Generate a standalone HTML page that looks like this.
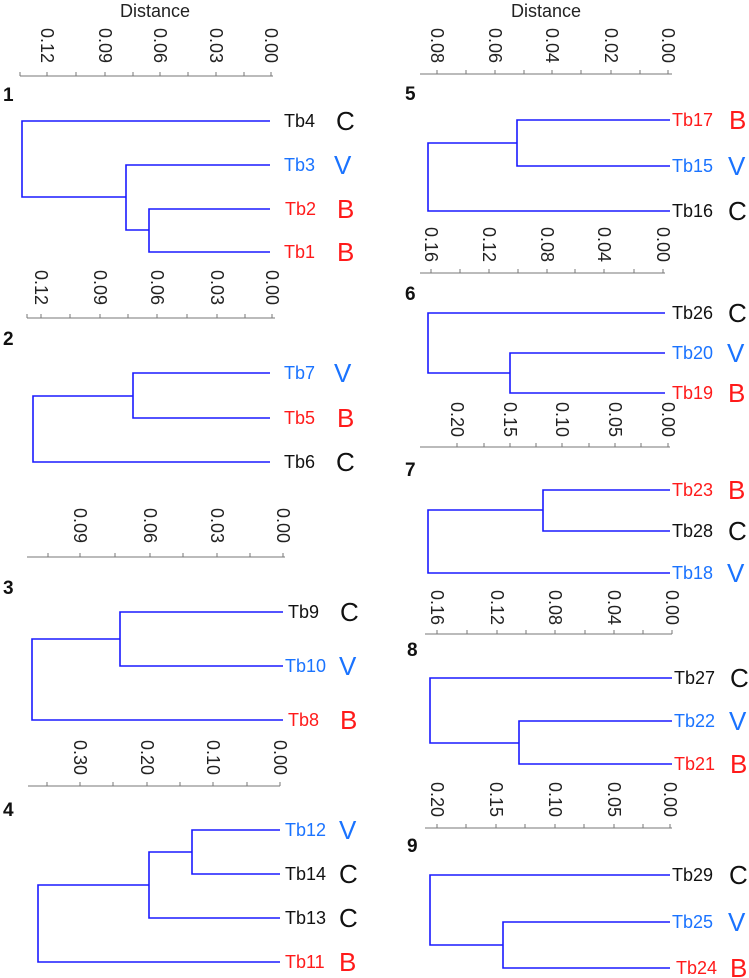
<!DOCTYPE html>
<html><head><meta charset="utf-8"><style>
html,body{margin:0;padding:0;background:#fff;width:749px;height:978px;overflow:hidden}
svg{display:block}
text{font-family:"Liberation Sans",sans-serif}
.ax{stroke:#777;stroke-width:1;fill:none}
.tr{stroke:#1a1aff;stroke-width:1.6;fill:none}
.tl{font-size:18px;fill:#222}
.lb{font-size:18px}
.lt{font-size:26px}
.k{fill:#111}.b{fill:#1a73ff}.r{fill:#ff1a1a}
.n{font-size:19px;font-weight:bold;fill:#111}
</style></head><body>
<svg width="749" height="978" viewBox="0 0 749 978" xmlns="http://www.w3.org/2000/svg">
<text x="155" y="17" font-size="18" text-anchor="middle" fill="#222">Distance</text>
<text x="546" y="17" font-size="18" text-anchor="middle" fill="#222">Distance</text>

<!-- Axis 1 -->
<path class="ax" d="M20 76H273 M20 76v-4 M47 76v-4 M76 76v-4 M105 76v-4 M133 76v-4 M160 76v-4 M188 76v-4 M216 76v-4 M244 76v-4 M271 76v-4"/>
<g class="tl">
<text transform="translate(47,28) rotate(90)" dominant-baseline="central">0.12</text>
<text transform="translate(105,28) rotate(90)" dominant-baseline="central">0.09</text>
<text transform="translate(160,28) rotate(90)" dominant-baseline="central">0.06</text>
<text transform="translate(216,28) rotate(90)" dominant-baseline="central">0.03</text>
<text transform="translate(271,28) rotate(90)" dominant-baseline="central">0.00</text>
</g>
<text class="n" x="3" y="101">1</text>
<path class="tr" d="M270 121H22V197H126 M270 165H126V230H149 M270 209H149V252H270"/>
<text class="lb k" x="284" y="127">Tb4</text><text class="lt k" x="336" y="130">C</text>
<text class="lb b" x="284" y="171">Tb3</text><text class="lt b" x="334" y="174">V</text>
<text class="lb r" x="285" y="215">Tb2</text><text class="lt r" x="337" y="218">B</text>
<text class="lb r" x="284" y="258">Tb1</text><text class="lt r" x="337" y="261">B</text>

<!-- Axis 2 -->
<path class="ax" d="M27 318H275 M27 318v-4 M41 318v-4 M70 318v-4 M100 318v-4 M128 318v-4 M157 318v-4 M187 318v-4 M217 318v-4 M245 318v-4 M272 318v-4"/>
<g class="tl">
<text transform="translate(41,270) rotate(90)" dominant-baseline="central">0.12</text>
<text transform="translate(100,270) rotate(90)" dominant-baseline="central">0.09</text>
<text transform="translate(157,270) rotate(90)" dominant-baseline="central">0.06</text>
<text transform="translate(217,270) rotate(90)" dominant-baseline="central">0.03</text>
<text transform="translate(272,270) rotate(90)" dominant-baseline="central">0.00</text>
</g>
<text class="n" x="3" y="345">2</text>
<path class="tr" d="M270 373H133V418H270 M133 396H33V462H270"/>
<text class="lb b" x="284" y="379">Tb7</text><text class="lt b" x="334" y="382">V</text>
<text class="lb r" x="284" y="424">Tb5</text><text class="lt r" x="337" y="427">B</text>
<text class="lb k" x="284" y="468">Tb6</text><text class="lt k" x="336" y="471">C</text>

<!-- Axis 3 -->
<path class="ax" d="M27 557H285 M48 557v-4 M80 557v-4 M115 557v-4 M150 557v-4 M183 557v-4 M217 557v-4 M250 557v-4 M283 557v-4"/>
<g class="tl">
<text transform="translate(80,508) rotate(90)" dominant-baseline="central">0.09</text>
<text transform="translate(150,508) rotate(90)" dominant-baseline="central">0.06</text>
<text transform="translate(217,508) rotate(90)" dominant-baseline="central">0.03</text>
<text transform="translate(283,508) rotate(90)" dominant-baseline="central">0.00</text>
</g>
<text class="n" x="3" y="594">3</text>
<path class="tr" d="M283 612H120V666H283 M120 639H32V720H283"/>
<text class="lb k" x="288" y="618">Tb9</text><text class="lt k" x="340" y="621">C</text>
<text class="lb b" x="285" y="672">Tb10</text><text class="lt b" x="339" y="675">V</text>
<text class="lb r" x="288" y="726">Tb8</text><text class="lt r" x="340" y="729">B</text>

<!-- Axis 4 -->
<path class="ax" d="M28 786H280 M47 786v-4 M80 786v-4 M113 786v-4 M147 786v-4 M180 786v-4 M213 786v-4 M247 786v-4 M280 786v-4"/>
<g class="tl">
<text transform="translate(80,740) rotate(90)" dominant-baseline="central">0.30</text>
<text transform="translate(147,740) rotate(90)" dominant-baseline="central">0.20</text>
<text transform="translate(213,740) rotate(90)" dominant-baseline="central">0.10</text>
<text transform="translate(280,740) rotate(90)" dominant-baseline="central">0.00</text>
</g>
<text class="n" x="3" y="816">4</text>
<path class="tr" d="M280 830H192V874H280 M192 852H149V918H280 M149 885H38V962H280"/>
<text class="lb b" x="285" y="836">Tb12</text><text class="lt b" x="339" y="839">V</text>
<text class="lb k" x="285" y="880">Tb14</text><text class="lt k" x="339" y="883">C</text>
<text class="lb k" x="285" y="924">Tb13</text><text class="lt k" x="339" y="927">C</text>
<text class="lb r" x="285" y="968">Tb11</text><text class="lt r" x="339" y="971">B</text>

<!-- Axis 5 -->
<path class="ax" d="M420 74H672 M437 74v-4 M466 74v-4 M495 74v-4 M524 74v-4 M552 74v-4 M581 74v-4 M611 74v-4 M640 74v-4 M668 74v-4"/>
<g class="tl">
<text transform="translate(437,28) rotate(90)" dominant-baseline="central">0.08</text>
<text transform="translate(495,28) rotate(90)" dominant-baseline="central">0.06</text>
<text transform="translate(552,28) rotate(90)" dominant-baseline="central">0.04</text>
<text transform="translate(611,28) rotate(90)" dominant-baseline="central">0.02</text>
<text transform="translate(668,28) rotate(90)" dominant-baseline="central">0.00</text>
</g>
<text class="n" x="405" y="100">5</text>
<path class="tr" d="M670 120H517V166H670 M517 143H428V211H670"/>
<text class="lb r" x="672" y="126">Tb17</text><text class="lt r" x="729" y="129">B</text>
<text class="lb b" x="672" y="172">Tb15</text><text class="lt b" x="728" y="175">V</text>
<text class="lb k" x="672" y="217">Tb16</text><text class="lt k" x="728" y="220">C</text>

<!-- Axis 6 -->
<path class="ax" d="M420 273H665 M431 273v-4 M460 273v-4 M489 273v-4 M518 273v-4 M547 273v-4 M575 273v-4 M604 273v-4 M634 273v-4 M663 273v-4"/>
<g class="tl">
<text transform="translate(431,227) rotate(90)" dominant-baseline="central">0.16</text>
<text transform="translate(489,227) rotate(90)" dominant-baseline="central">0.12</text>
<text transform="translate(547,227) rotate(90)" dominant-baseline="central">0.08</text>
<text transform="translate(604,227) rotate(90)" dominant-baseline="central">0.04</text>
<text transform="translate(663,227) rotate(90)" dominant-baseline="central">0.00</text>
</g>
<text class="n" x="405" y="300">6</text>
<path class="tr" d="M665 313H428V373H510 M665 353H510V393H665"/>
<text class="lb k" x="672" y="319">Tb26</text><text class="lt k" x="728" y="322">C</text>
<text class="lb b" x="672" y="359">Tb20</text><text class="lt b" x="727" y="362">V</text>
<text class="lb r" x="672" y="399">Tb19</text><text class="lt r" x="728" y="402">B</text>

<!-- Axis 7 -->
<path class="ax" d="M420 447H670 M457 447v-4 M484 447v-4 M510 447v-4 M536 447v-4 M562 447v-4 M589 447v-4 M615 447v-4 M641 447v-4 M668 447v-4"/>
<g class="tl">
<text transform="translate(457,402) rotate(90)" dominant-baseline="central">0.20</text>
<text transform="translate(510,402) rotate(90)" dominant-baseline="central">0.15</text>
<text transform="translate(562,402) rotate(90)" dominant-baseline="central">0.10</text>
<text transform="translate(615,402) rotate(90)" dominant-baseline="central">0.05</text>
<text transform="translate(668,402) rotate(90)" dominant-baseline="central">0.00</text>
</g>
<text class="n" x="405" y="476">7</text>
<path class="tr" d="M670 490H543V531H670 M543 510H428V573H670"/>
<text class="lb r" x="672" y="496">Tb23</text><text class="lt r" x="728" y="499">B</text>
<text class="lb k" x="672" y="537">Tb28</text><text class="lt k" x="728" y="540">C</text>
<text class="lb b" x="672" y="579">Tb18</text><text class="lt b" x="727" y="582">V</text>

<!-- Axis 8 -->
<path class="ax" d="M425 634H672 M437 634v-4 M467 634v-4 M497 634v-4 M526 634v-4 M555 634v-4 M585 634v-4 M614 634v-4 M643 634v-4 M672 634v-4"/>
<g class="tl">
<text transform="translate(437,590) rotate(90)" dominant-baseline="central">0.16</text>
<text transform="translate(497,590) rotate(90)" dominant-baseline="central">0.12</text>
<text transform="translate(555,590) rotate(90)" dominant-baseline="central">0.08</text>
<text transform="translate(614,590) rotate(90)" dominant-baseline="central">0.04</text>
<text transform="translate(672,590) rotate(90)" dominant-baseline="central">0.00</text>
</g>
<text class="n" x="407" y="656">8</text>
<path class="tr" d="M672 678H430V743H519 M672 721H519V764H672"/>
<text class="lb k" x="674" y="684">Tb27</text><text class="lt k" x="730" y="687">C</text>
<text class="lb b" x="674" y="727">Tb22</text><text class="lt b" x="729" y="730">V</text>
<text class="lb r" x="674" y="770">Tb21</text><text class="lt r" x="730" y="773">B</text>

<!-- Axis 9 -->
<path class="ax" d="M425 828H672 M437 828v-4 M466 828v-4 M496 828v-4 M525 828v-4 M555 828v-4 M584 828v-4 M614 828v-4 M643 828v-4 M670 828v-4"/>
<g class="tl">
<text transform="translate(437,782) rotate(90)" dominant-baseline="central">0.20</text>
<text transform="translate(496,782) rotate(90)" dominant-baseline="central">0.15</text>
<text transform="translate(555,782) rotate(90)" dominant-baseline="central">0.10</text>
<text transform="translate(614,782) rotate(90)" dominant-baseline="central">0.05</text>
<text transform="translate(670,782) rotate(90)" dominant-baseline="central">0.00</text>
</g>
<text class="n" x="407" y="852">9</text>
<path class="tr" d="M670 875H430V945H503 M670 922H503V968H670"/>
<text class="lb k" x="672" y="881">Tb29</text><text class="lt k" x="729" y="884">C</text>
<text class="lb b" x="672" y="928">Tb25</text><text class="lt b" x="728" y="931">V</text>
<text class="lb r" x="676" y="974">Tb24</text><text class="lt r" x="730" y="977">B</text>
</svg>
</body></html>
